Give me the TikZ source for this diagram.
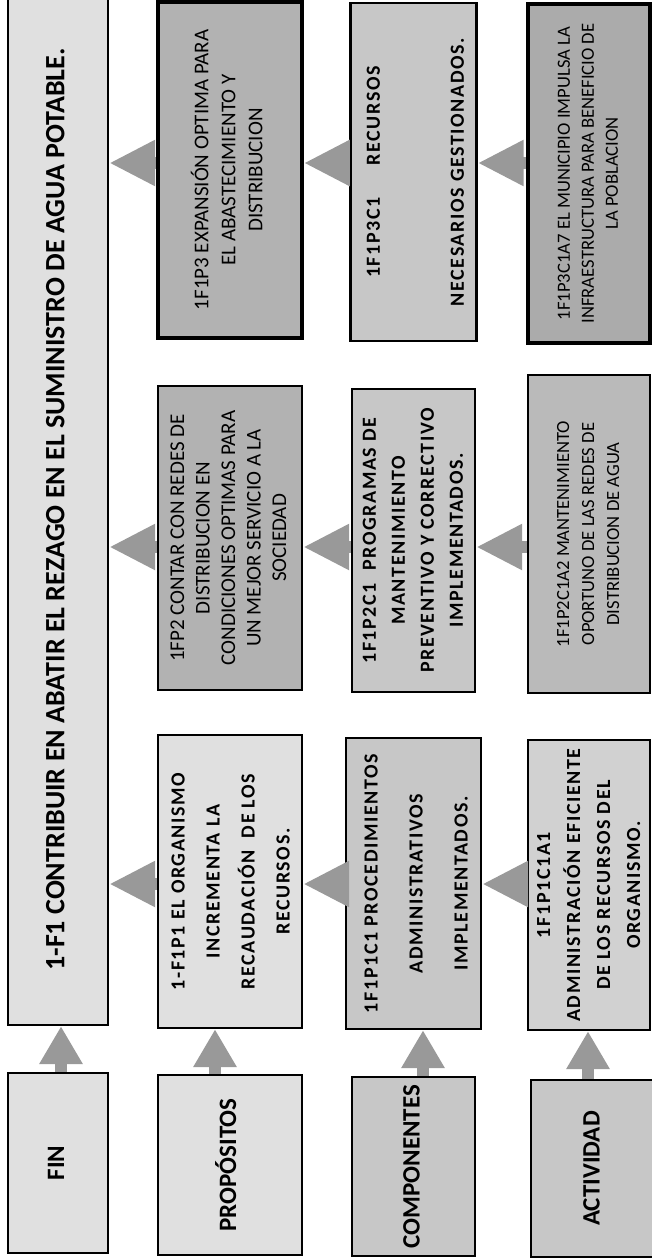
\documentclass[tikz,border=0pt]{standalone}
\usepackage{fontspec}
\setmainfont{Carlito}
\usepackage{graphicx}
\usetikzlibrary{arrows.meta}
\newcommand{\rot}[1]{\rotatebox{90}{\begin{tabular}{@{}c@{}}#1\end{tabular}}}
\newcommand{\spaced}{\addfontfeature{LetterSpace=8}}

\begin{document}
\begin{tikzpicture}[x=0.5pt,y=-0.5pt,
  box/.style={draw=black,line width=1.2pt,rectangle,inner sep=0pt},
  light/.style={box,fill=black!12},
  mid/.style={box,fill=black!22},
  dark/.style={box,fill=black!30},
  thickbox/.style={line width=1.8pt},
  side/.style={font=\fontsize{12.5}{15}\selectfont\bfseries},
  plain/.style={font=\fontsize{10.5}{#1}\selectfont},
  small/.style={font=\fontsize{9.3}{#1}\selectfont},
  heavy/.style={font=\fontsize{10}{#1}\selectfont\bfseries\spaced},
  fatarrow/.style={draw=black!40,line width=6pt,-{Triangle[length=23pt,width=21.5pt]}},
  uparrow/.style={draw=black!40,line width=6pt,-{Triangle[length=19pt,width=20.5pt]}}]
\path[use as bounding box,fill=white] (0,0) rectangle (652,1258);
\node[light,minimum width=50pt,minimum height=515.5pt,font=\fontsize{14}{16}\selectfont\bfseries] (title) at (58,509.5) {\rot{1-F1 CONTRIBUIR EN ABATIR EL REZAGO EN EL SUMINISTRO DE AGUA POTABLE.}};
\node[light,side,minimum width=50pt,minimum height=90pt] (fin) at (58,1163) {\rot{FIN}};
\node[dark,thickbox,plain=13.5pt,minimum width=72pt,minimum height=168pt] (p3) at (230,170) {\rot{1F1P3 EXPANSIÓN OPTIMA PARA\\EL ABASTECIMIENTO Y\\DISTRIBUCION}};
\node[dark,plain=12.75pt,minimum width=72pt,minimum height=152pt] (p2) at (230,538) {\rot{1FP2 CONTAR CON REDES DE\\DISTRIBUCION EN\\CONDICIONES OPTIMAS PARA\\UN MEJOR SERVICIO A LA\\SOCIEDAD}};
\node[light,heavy=17.5pt,minimum width=72pt,minimum height=146.5pt] (p1) at (230,881.5) {\rot{1-F1P1 EL ORGANISMO\\INCREMENTA LA\\RECAUDACIÓN~~DE LOS\\RECURSOS.}};
\node[light,side,minimum width=72pt,minimum height=90pt] (prop) at (230,1165) {\rot{PROPÓSITOS}};
\node[mid,heavy=21pt,minimum width=61.5pt,minimum height=169pt] (c3) at (413.5,172) {\rot{1F1P3C1\hspace{16pt}RECURSOS\\ \\NECESARIOS GESTIONADOS.}};
\node[mid,heavy=14.5pt,minimum width=61.5pt,minimum height=151.5pt] (c2) at (413.5,540.5) {\rot{1F1P2C1~~PROGRAMAS DE\\MANTENIMIENTO\\PREVENTIVO Y CORRECTIVO\\IMPLEMENTADOS.}};
\node[mid,heavy=22.5pt,minimum width=61.5pt,minimum height=145.5pt] (c1) at (413.5,883.5) {\rot{1F1P1C1 PROCEDIMIENTOS\\ADMINISTRATIVOS\\IMPLEMENTADOS.}};
\node[mid,side,minimum width=61.5pt,minimum height=89.5pt] (comp) at (413.5,1166.5) {\rot{COMPONENTES}};
\node[dark,thickbox,fill=black!33,small=12pt,minimum width=61pt,minimum height=169.5pt] (a3) at (589,173.5) {\rot{1F1P3C1A7 EL MUNICIPIO IMPULSA LA\\INFRAESTRUCTURA PARA BENEFICIO DE\\LA POBLACION}};
\node[dark,fill=black!27,small=12.5pt,minimum width=61pt,minimum height=159pt] (a2) at (589,534) {\rot{1F1P2C1A2 MANTENIMIENTO\\OPORTUNO DE LAS REDES DE\\DISTRIBUCION DE AGUA}};
\node[mid,fill=black!18,heavy=15pt,minimum width=61pt,minimum height=145pt] (a1) at (589,885) {\rot{1F1P1C1A1\\ADMINISTRACIÓN EFICIENTE\\DE LOS RECURSOS DEL\\ORGANISMO.}};
\node[mid,side,minimum width=62.5pt,minimum height=88.5pt] (act) at (593.5,1168.5) {\rot{ACTIVIDAD}};
\coordinate (r1) at (0,163);
\coordinate (r2) at (0,547);
\coordinate (r3) at (0,884);
\coordinate (k1) at (61,0);
\coordinate (k2) at (215,0);
\coordinate (k3) at (423,0);
\coordinate (k4) at (588,0);
\draw[fatarrow] (p3.west |- r1) -- (title.east |- r1);
\draw[fatarrow] (p2.west |- r2) -- (title.east |- r2);
\draw[fatarrow] (p1.west |- r3) -- (title.east |- r3);
\draw[fatarrow] (c3.west |- r1) -- (p3.east |- r1);
\draw[fatarrow] (c2.west |- r2) -- (p2.east |- r2);
\draw[fatarrow] (c1.west |- r3) -- (p1.east |- r3);
\draw[fatarrow] (a3.west |- r1) -- (c3.east |- r1);
\draw[fatarrow] (a2.west |- r2) -- (c2.east |- r2);
\draw[fatarrow] (a1.west |- r3) -- (c1.east |- r3);
\draw[uparrow] (fin.north -| k1) -- (title.south -| k1);
\draw[uparrow] (prop.north -| k2) -- (p1.south -| k2);
\draw[uparrow] (comp.north -| k3) -- (c1.south -| k3);
\draw[uparrow] (act.north -| k4) -- (a1.south -| k4);
\end{tikzpicture}
\end{document}
